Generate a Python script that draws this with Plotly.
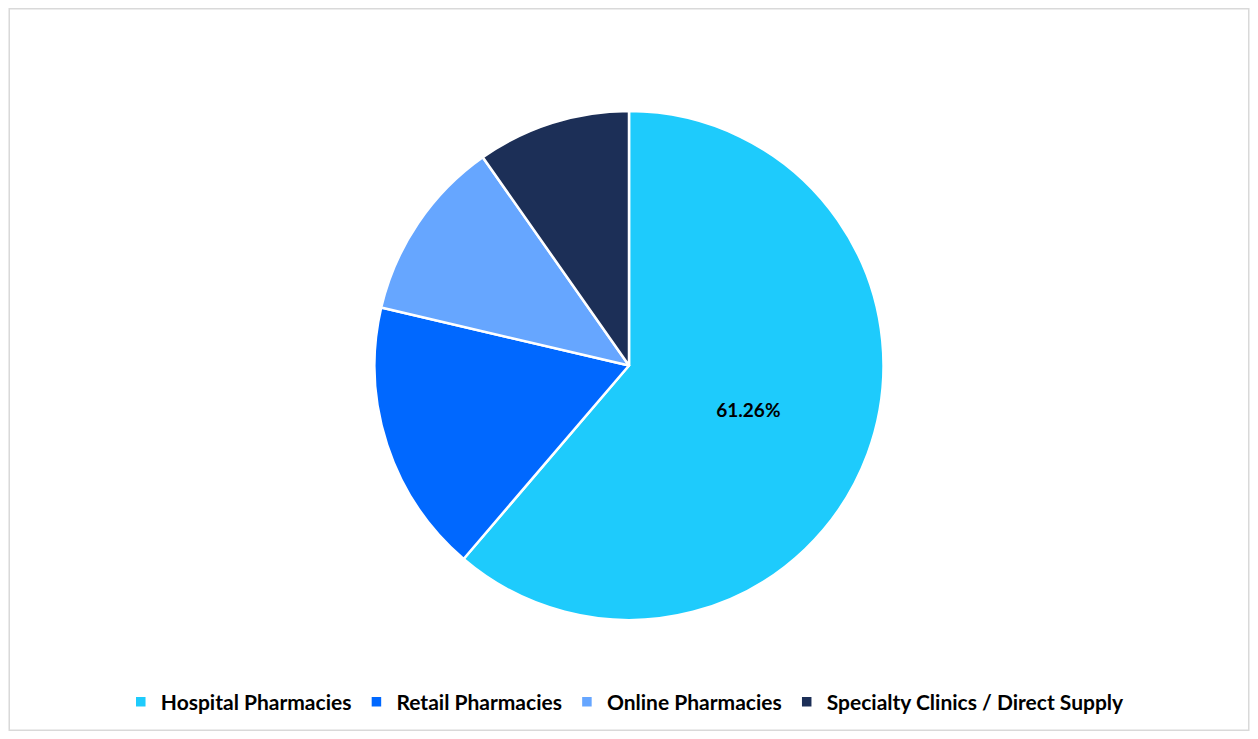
import plotly.graph_objects as go

labels = ["Hospital Pharmacies", "Retail Pharmacies", "Online Pharmacies", "Specialty Clinics / Direct Supply"]
values = [61.26, 17.4, 11.6, 9.74]
colors = ["#1ECBFC", "#0068FF", "#66A6FF", "#1C2F57"]
text = ["61.26%", "", "", ""]

fig = go.Figure(go.Pie(
    labels=labels, values=values, sort=False, direction="clockwise", rotation=0,
    marker=dict(colors=colors, line=dict(color="white", width=2.5)),
    text=text, textinfo="text", textposition="inside", insidetextorientation="horizontal",
    textfont=dict(size=19, color="black", family="Lato", weight="bold"),
    domain=dict(x=[0, 1], y=[0.1535, 0.8575]),
))
fig.update_layout(
    width=1242, height=723, paper_bgcolor="white", plot_bgcolor="white",
    margin=dict(l=0, r=0, t=0, b=0),
    font=dict(family="Lato", size=21, color="black"),
    legend=dict(orientation="h", x=0.497, xanchor="center", y=0.04, yanchor="middle",
                font=dict(size=21, family="Lato", weight="bold"), itemwidth=30),
    shapes=[dict(type="rect", xref="paper", yref="paper", x0=0.001, y0=0.001, x1=0.999, y1=0.999,
                 line=dict(color="#D9D9D9", width=1.5))],
)
fig.write_html("out.html")
